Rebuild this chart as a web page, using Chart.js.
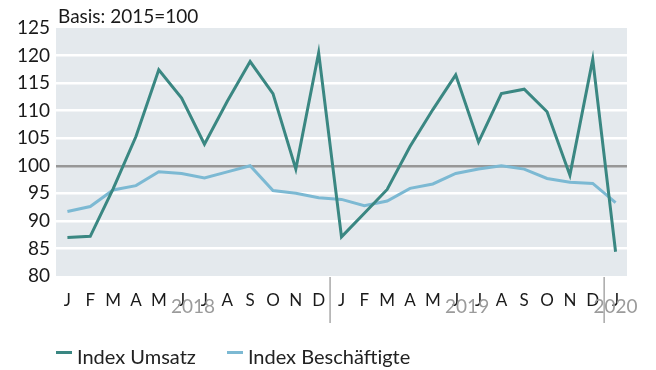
<!DOCTYPE html>
<html>
<head>
<meta charset="utf-8">
<script src="https://cdn.jsdelivr.net/npm/chart.js@4.4.1/dist/chart.umd.min.js"></script>
<style>
  body { margin: 0; background: #fff; font-family: Lato, sans-serif; }
  #wrap { position: relative; width: 656px; height: 370px; }
  #legend { position: absolute; left: 56px; top: 344px; display: flex; font-size: 20px; color: #222; line-height: 24px; }
  #legend .item { display: flex; align-items: center; margin-right: 31px; }
  #legend .mark { width: 16px; height: 3px; margin-right: 5px; margin-top: -7px; }
</style>
</head>
<body>
<div id="wrap">
  <canvas id="chart" width="656" height="370"></canvas>
  <div id="legend"></div>
</div>
<script>
// months Jan 2018 .. Jan 2020
const months = ['J','F','M','A','M','J','J','A','S','O','N','D',
                'J','F','M','A','M','J','J','A','S','O','N','D','J']
const years = ['2018', '2019', '2020']
const yearStart = [0, 12, 24]

const umsatz = [87.0, 87.2, 95.8, 105.3, 117.4, 112.3, 103.9, 111.7, 118.9, 113.1, 99.4, 120.5,
                87.1, 91.4, 95.7, 103.5, 110.2, 116.5, 104.3, 113.1, 113.9, 109.8, 98.3, 119.3, 84.4]
const beschaeftigte = [91.7, 92.6, 95.6, 96.4, 98.9, 98.6, 97.8, 98.9, 100.0, 95.5, 95.0, 94.2,
                       93.9, 92.75, 93.6, 95.9, 96.7, 98.6, 99.4, 100.0, 99.4, 97.7, 97.0, 96.8, 93.3]

const yTicks = [80, 85, 90, 95, 100, 105, 110, 115, 120, 125]

const FONT = 'Lato'
const TEAL = '#3a8782'
const LIGHTBLUE = '#7cb9d3'

// grey panel behind the plot, basis note, year labels and separators
const extras = {
  id: 'extras',
  beforeDraw(chart) {
    const { ctx, chartArea: a } = chart
    ctx.save()
    ctx.fillStyle = '#e4e9ed'
    ctx.fillRect(a.left, a.top, a.right - a.left, a.bottom - a.top)
    ctx.restore()
  },
  afterDraw(chart) {
    const { ctx, chartArea: a, scales: { x } } = chart
    ctx.save()
    ctx.fillStyle = '#1a1a1a'
    ctx.font = '19px ' + FONT
    ctx.textBaseline = 'middle'
    ctx.fillText('Basis: 2015=100', a.left + 2, 17)

    ctx.strokeStyle = '#a8a8a8'
    ctx.lineWidth = 1.5
    for (let i = 1; i < yearStart.length; i++) {
      const px = (x.getPixelForValue(yearStart[i] - 1) + x.getPixelForValue(yearStart[i])) / 2
      ctx.beginPath()
      ctx.moveTo(px, a.bottom + 1)
      ctx.lineTo(px, 323)
      ctx.stroke()
    }

    ctx.fillStyle = '#9b9b9b'
    ctx.font = '19px ' + FONT
    ctx.textAlign = 'center'
    for (let i = 0; i < years.length; i++) {
      const first = yearStart[i]
      const last = i + 1 < yearStart.length ? yearStart[i + 1] - 1 : months.length - 1
      let cx = (x.getPixelForValue(first) + x.getPixelForValue(last)) / 2
      const w = ctx.measureText(years[i]).width
      cx = Math.min(cx, chart.width - 4 - w / 2)
      ctx.fillText(years[i], cx, 307)
    }
    ctx.restore()
  }
}

const chart = new Chart(document.getElementById('chart'), {
  type: 'line',
  data: {
    labels: months,
    datasets: [{
      label: 'Index Umsatz',
      data: umsatz,
      borderColor: TEAL,
      borderWidth: 3,
      pointRadius: 0,
      tension: 0
    }, {
      label: 'Index Beschäftigte',
      data: beschaeftigte,
      borderColor: LIGHTBLUE,
      borderWidth: 3,
      pointRadius: 0,
      tension: 0
    }]
  },
  options: {
    responsive: false,
    animation: false,
    layout: { padding: { top: 28, right: 29, left: 0, bottom: 0 } },
    scales: {
      x: {
        offset: true,
        border: { display: false },
        grid: { display: false, drawTicks: false },
        ticks: { color: '#1a1a1a', font: { family: FONT, size: 17 }, padding: 14, maxRotation: 0, autoSkip: false },
        afterFit(scale) { scale.height = 94 }
      },
      y: {
        min: 80,
        max: 125,
        afterBuildTicks(scale) { scale.ticks = yTicks.map(v => ({ value: v })) },
        border: { display: false },
        grid: {
          drawTicks: false,
          lineWidth: 2.5,
          color: c => {
            const v = c.tick && c.tick.value
            if (v === 100) return '#979797'
            if (v === 80 || v === 125) return 'rgba(0,0,0,0)'
            return '#ffffff'
          }
        },
        ticks: { color: '#1a1a1a', font: { family: FONT, size: 19 }, padding: 6 },
        afterFit(scale) { scale.width = 56 }
      }
    },
    plugins: {
      legend: { display: false },
      tooltip: { enabled: false }
    }
  },
  plugins: [extras]
})

// legend below the chart
const legend = document.getElementById('legend')
chart.data.datasets.forEach(ds => {
  const item = document.createElement('div')
  item.className = 'item'
  item.innerHTML = '<span class="mark" style="background:' + ds.borderColor + '"></span>' + ds.label
  legend.appendChild(item)
})
</script>
</body>
</html>
